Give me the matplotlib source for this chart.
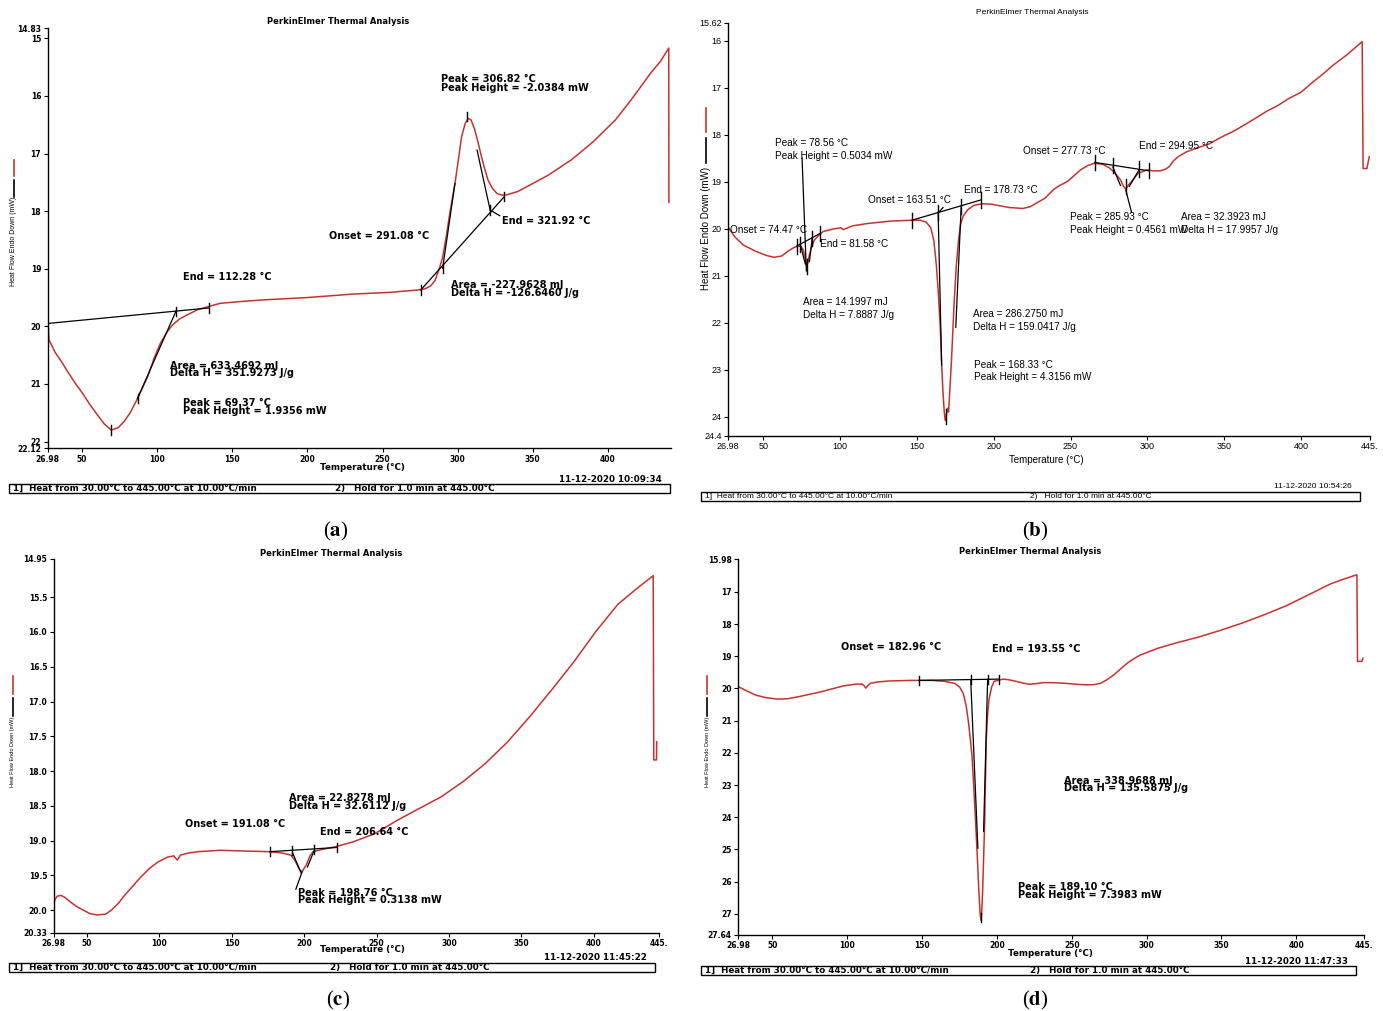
import matplotlib
matplotlib.use("Agg")
import matplotlib.pyplot as plt
from matplotlib.lines import Line2D
from matplotlib.patches import Rectangle

W, H = 1383, 1011
RED = "#c8322d"

# ---------------- data: panel (a) ----------------
a_temp = [26.98, 27.9, 32, 36, 40, 45, 50, 55, 60, 65, 69.4, 74, 78, 82, 86, 90,
          94, 98, 102, 106, 110, 115, 120, 127, 135, 142, 155, 171, 200, 230, 255,
          273, 278, 282, 285, 288, 290, 292.4, 295, 298.2, 300.5, 302.6, 305, 307,
          309, 311.4, 313.5, 315.8, 318, 320.2, 323, 326, 329, 332, 340, 346.5, 360,
          375.7, 390, 404.9, 416, 428.3, 435, 440.5, 440.6]
a_flow = [19.98, 20.23, 20.45, 20.6, 20.77, 20.97, 21.15, 21.35, 21.53, 21.7, 21.8,
          21.76, 21.65, 21.5, 21.3, 21.08, 20.85, 20.55, 20.3, 20.12, 19.98, 19.87,
          19.8, 19.71, 19.65, 19.6, 19.57, 19.54, 19.5, 19.44, 19.41, 19.37, 19.35,
          19.3, 19.2, 18.98, 18.8, 18.44, 18.0, 17.52, 17.1, 16.71, 16.48, 16.39,
          16.42, 16.59, 16.8, 17.05, 17.27, 17.46, 17.6, 17.69, 17.72, 17.72, 17.66,
          17.57, 17.38, 17.11, 16.8, 16.42, 16.05, 15.61, 15.4, 15.17, 17.85]
a_yticks = [14.83, 15, 16, 17, 18, 19, 20, 21, 22, 22.12]
a_lines = [((26.98, 19.95), (134.5, 19.68)), ((86.9, 21.25), (112.6, 19.73)),
           ((275.4, 19.37), (331.0, 17.75)), ((290.0, 18.99), (298.2, 17.52)),
           ((312.9, 16.94), (321.6, 17.98)), ((321.6, 17.98), (328.0, 18.08))]
a_marks = [(112.6, 19.74), (134.5, 19.68), (86.9, 21.25), (69.4, 21.8), (27.2, 20.1),
           (275.4, 19.37), (290.0, 19.0), (321.6, 17.98), (331.0, 17.75), (306.4, 16.36)]
a_notes = [(288.9, 15.71, "Peak = 306.82 °C"), (288.9, 15.86, "Peak Height = -2.0384 mW"),
           (214.3, 18.43, "Onset = 291.08 °C"), (329.8, 18.17, "End = 321.92 °C"),
           (295.3, 19.28, "Area = -227.9628 mJ"), (295.3, 19.42, "Delta H = -126.6460 J/g"),
           (117.3, 19.15, "End = 112.28 °C"),
           (108.5, 20.68, "Area = 633.4692 mJ"), (108.5, 20.81, "Delta H = 351.9273 J/g"),
           (117.3, 21.33, "Peak = 69.37 °C"), (117.3, 21.47, "Peak Height = 1.9356 mW")]

# ---------------- data: panel (b) ----------------
b_temp = [26.98, 31.3, 37, 45.7, 52, 57, 62, 66, 70, 72.5, 74.5, 76, 77, 78.2, 79, 80,
          81.5, 83.3, 86, 89, 95, 100.6, 102, 108, 117.9, 132.3, 146.8, 152, 156, 159,
          161, 162.7, 164, 165.2, 166.1, 167, 167.8, 168.4, 169.2, 169.9, 170.6, 171.3,
          172.5, 174.2, 175.6, 177.1, 178.5, 180, 183, 187.2, 193, 198.8, 205, 210.3,
          219, 224, 227.6, 233.4, 239.2, 243, 247.8, 252, 256.5, 261, 265.2, 271, 275,
          278.2, 282.5, 284.5, 286, 287.5, 289.7, 294, 299.8, 304, 308.5, 312, 314.3,
          317, 320, 325.8, 334.5, 340, 348.9, 356, 363.4, 370, 377.8, 385, 392.2, 400,
          406.7, 414, 421.1, 430, 439.9, 440.5, 443, 444.5]
b_flow = [19.96, 20.17, 20.35, 20.49, 20.57, 20.61, 20.58, 20.48, 20.4, 20.37, 20.38,
          20.45, 20.6, 20.8, 20.72, 20.55, 20.38, 20.24, 20.14, 20.06, 20.01, 19.98,
          20.02, 19.94, 19.89, 19.84, 19.82, 19.82, 19.86, 19.98, 20.25, 20.8, 21.4,
          22.1, 22.9, 23.5, 23.9, 24.08, 23.95, 23.82, 23.9, 23.5, 22.8, 21.6, 20.8,
          20.24, 19.9, 19.74, 19.6, 19.5, 19.47, 19.48, 19.52, 19.55, 19.57, 19.53,
          19.46, 19.35, 19.16, 19.08, 19.0, 18.88, 18.75, 18.66, 18.61, 18.63, 18.7,
          18.79, 18.96, 19.1, 19.16, 19.08, 19.0, 18.82, 18.75, 18.77, 18.77, 18.73,
          18.68, 18.56, 18.47, 18.36, 18.26, 18.2, 18.04, 17.93, 17.79, 17.66, 17.5,
          17.38, 17.23, 17.1, 16.91, 16.72, 16.52, 16.3, 16.02, 18.72, 18.72, 18.47]
b_yticks = [15.62, 16, 17, 18, 19, 20, 21, 22, 23, 24, 24.4]
b_lines = [((71.7, 20.37), (87.0, 20.1)), ((74.0, 20.33), (77.3, 20.75)),
           ((81.8, 20.2), (80.0, 20.7)), ((75.2, 18.5), (78.0, 20.9)),
           ((146.8, 19.82), (191.5, 19.39)), ((163.8, 19.65), (166.1, 22.9)),
           ((178.8, 19.53), (175.3, 22.1)), ((163.8, 19.67), (167.0, 19.55)),
           ((265.8, 18.59), (301.3, 18.77)), ((277.6, 18.69), (282.5, 19.08)),
           ((294.6, 18.75), (288.3, 19.1)), ((286.0, 19.18), (289.7, 19.65))]
b_marks = [(71.7, 20.37), (74.0, 20.33), (81.8, 20.2), (87.0, 20.1), (78.4, 20.8),
           (146.8, 19.82), (163.8, 19.65), (178.8, 19.53), (191.5, 19.39), (168.7, 24.0),
           (265.8, 18.59), (277.6, 18.66), (294.6, 18.73), (301.3, 18.77), (286.0, 19.1)]
b_notes = [(57.3, 18.18, "Peak = 78.56 °C"), (57.3, 18.45, "Peak Height = 0.5034 mW"),
           (28.4, 20.03, "Onset = 74.47 °C"), (87.0, 20.33, "End = 81.58 °C"),
           (75.5, 21.57, "Area = 14.1997 mJ"), (75.5, 21.84, "Delta H = 7.8887 J/g"),
           (117.9, 19.4, "Onset = 163.51 °C"), (180.9, 19.18, "End = 178.73 °C"),
           (186.6, 21.82, "Area = 286.2750 mJ"), (186.6, 22.09, "Delta H = 159.0417 J/g"),
           (187.2, 22.89, "Peak = 168.33 °C"), (187.2, 23.15, "Peak Height = 4.3156 mW"),
           (219.0, 18.34, "Onset = 277.73 °C"), (294.6, 18.24, "End = 294.95 °C"),
           (249.9, 19.75, "Peak = 285.93 °C"), (249.9, 20.03, "Peak Height = 0.4561 mW"),
           (322.0, 19.75, "Area = 32.3923 mJ"), (322.0, 20.03, "Delta H = 17.9957 J/g")]

# ---------------- data: panel (c) ----------------
c_temp = [26.98, 27.7, 29.5, 32.3, 35, 38.4, 43, 47.5, 52, 56.7, 62.8, 67, 71.9, 76,
          81.1, 87, 93.3, 99, 105.5, 110, 111.6, 112.5, 114.6, 120, 126.9, 142.1, 157.4,
          175.7, 185, 190.9, 193.5, 195.5, 197, 198.6, 200, 201.6, 204, 206.2, 212,
          221.5, 233.7, 248.9, 264.2, 279.4, 294.7, 309.9, 325.2, 340.5, 355.7, 371,
          386.2, 401.5, 416.7, 430, 441.0, 441.4, 443.3, 443.4]
c_flow = [19.97, 19.86, 19.8, 19.79, 19.82, 19.88, 19.95, 20.0, 20.05, 20.07, 20.06,
          20.0, 19.9, 19.79, 19.67, 19.53, 19.4, 19.31, 19.24, 19.22, 19.26, 19.28,
          19.21, 19.18, 19.16, 19.14, 19.15, 19.16, 19.18, 19.21, 19.28, 19.36, 19.42,
          19.45, 19.4, 19.35, 19.22, 19.16, 19.13, 19.09, 19.02, 18.9, 18.71, 18.54,
          18.37, 18.15, 17.89, 17.58, 17.22, 16.83, 16.43, 15.99, 15.6, 15.37, 15.19,
          17.84, 17.84, 17.58]
c_yticks = [14.95, 15.5, 16.0, 16.5, 17.0, 17.5, 18.0, 18.5, 19.0, 19.5, 20.0, 20.33]
c_lines = [((176.3, 19.16), (222.4, 19.1)), ((191.9, 19.17), (198.0, 19.47)),
           ((206.8, 19.15), (202.3, 19.38)), ((198.6, 19.45), (194.3, 19.7))]
c_marks = [(176.3, 19.16), (191.9, 19.15), (206.8, 19.13), (222.4, 19.1)]
c_notes = [(189.4, 18.39, "Area = 22.8278 mJ"), (189.4, 18.5, "Delta H = 32.6112 J/g"),
           (117.7, 18.76, "Onset = 191.08 °C"), (210.8, 18.87, "End = 206.64 °C"),
           (195.5, 19.75, "Peak = 198.76 °C"), (195.5, 19.86, "Peak Height = 0.3138 mW")]

# ---------------- data: panel (d) ----------------
d_temp = [26.98, 33, 38.5, 45, 53.3, 60, 68, 75, 82.8, 90, 97.6, 105, 109.5, 111, 112.4,
          113.5, 115.4, 120, 127.2, 142, 156.8, 165, 171.6, 175, 177.5, 179.5, 181.1,
          182.3, 183.4, 184.6, 185.8, 186.9, 187.9, 188.8, 189.3, 189.8, 190.5, 191.1,
          191.7, 192.3, 192.9, 193.8, 194.7, 196.5, 198.2, 204.1, 208, 213, 218, 221.9,
          226, 230.8, 238, 245.6, 253, 260.4, 265, 269.2, 273.5, 278.1, 283, 287, 291,
          295.9, 301, 307.7, 319.5, 334.3, 349.1, 363.9, 378.7, 393.5, 408.3, 423.1,
          432, 440.6, 441.0, 444.0, 444.6]
d_flow = [19.94, 20.08, 20.2, 20.28, 20.33, 20.32, 20.25, 20.18, 20.1, 20.01, 19.92,
          19.87, 19.86, 19.9, 19.99, 19.92, 19.84, 19.8, 19.77, 19.75, 19.75, 19.78,
          19.84, 19.95, 20.15, 20.55, 21.08, 21.6, 22.11, 23.1, 24.18, 25.2, 26.25,
          27.0, 27.19, 27.0, 26.25, 25.3, 24.39, 23.0, 21.6, 20.8, 20.35, 19.95, 19.78,
          19.71, 19.73, 19.78, 19.84, 19.87, 19.85, 19.82, 19.82, 19.84, 19.87, 19.89,
          19.88, 19.84, 19.73, 19.58, 19.38, 19.22, 19.09, 18.96, 18.87, 18.75, 18.59,
          18.41, 18.2, 17.97, 17.71, 17.43, 17.09, 16.75, 16.6, 16.47, 19.16, 19.16, 19.06]
d_yticks = [15.98, 17, 18, 19, 20, 21, 22, 23, 24, 25, 26, 27, 27.64]
d_lines = [((147.9, 19.75), (201.2, 19.71)), ((182.5, 19.73), (187.3, 24.96)),
           ((193.8, 19.72), (191.1, 24.44))]
d_marks = [(147.9, 19.75), (182.5, 19.73), (193.8, 19.72), (201.2, 19.71), (189.3, 27.1)]
d_notes = [(95.6, 18.7, "Onset = 182.96 °C"), (197.0, 18.78, "End = 193.55 °C"),
           (245.0, 22.86, "Area = 338.9688 mJ"), (245.0, 23.1, "Delta H = 135.5875 J/g"),
           (213.9, 26.18, "Peak = 189.10 °C"), (213.9, 26.41, "Peak Height = 7.3983 mW")]

x_ticks = [26.98, 50, 100, 150, 200, 250, 300, 350, 400, 445]
x_labels = ["26.98", "50", "100", "150", "200", "250", "300", "350", "400", "445."]
stamps = ["11-12-2020 10:09:34", "11-12-2020 10:54:26", "11-12-2020 11:45:22", "11-12-2020 11:47:33"]

plt.rcParams["mathtext.fontset"] = "stix"
fig = plt.figure(figsize=(W / 100, H / 100), dpi=100)


def fx(x):
    return x / W


def fy(y):
    return 1 - y / H


def make_axes(left, top, right, bottom):
    return fig.add_axes([fx(left), fy(bottom), (right - left) / W, (bottom - top) / H])


def draw_panel(ax, temp, flow, xmax, ylim, yticks, yfmt, lines, marks, mark_h,
               notes, txt, tick_fs):
    ax.plot(temp, flow, color=RED, lw=1.1, solid_joinstyle="round")
    for (x0, y0), (x1, y1) in lines:
        ax.plot([x0, x1], [y0, y1], color="black", lw=0.9)
    for x, y in marks:
        ax.plot([x, x], [y - mark_h, y + mark_h], color="black", lw=1.0)
    for x, y, s in notes:
        ax.text(x, y, s, ha="left", va="center", **txt)
    style = {k: v for k, v in txt.items() if k != "fontsize"}
    ax.set_xlim(26.98, xmax)
    ax.set_ylim(*ylim)
    ax.set_yticks(yticks)
    ax.set_yticklabels([yfmt(v) for v in yticks], fontsize=tick_fs, **style)
    keep = [i for i, t in enumerate(x_ticks) if t <= xmax]
    ax.set_xticks([x_ticks[i] for i in keep])
    ax.set_xticklabels([x_labels[i] for i in keep], fontsize=tick_fs, **style)
    for side in ("top", "right"):
        ax.spines[side].set_visible(False)
    for side in ("left", "bottom"):
        ax.spines[side].set_linewidth(1.0)
    ax.tick_params(direction="out", length=3, width=0.8, pad=1.5)
    ax.patch.set_alpha(0)


def frame(xl, xr, ybox, xtxt2, title_xy, stamp, xlab_xy, ylab_x, ylab_y, ylab_fs,
          red_seg, blk_seg, cap_xy, cap, style, fs_title, fs_box, fs_lab):
    fig.text(fx(title_xy[0]), fy(title_xy[1]), "PerkinElmer Thermal Analysis",
             ha="center", va="center", fontsize=fs_title, **style)
    fig.text(fx(xlab_xy[0]), fy(xlab_xy[1]), "Temperature (°C)", ha="center", va="center",
             fontsize=fs_lab, **style)
    fig.patches.append(Rectangle((fx(xl), fy(ybox + 9)), (xr - xl) / W, 9 / H,
                                 transform=fig.transFigure, fill=False, lw=1.0, ec="black"))
    fig.text(fx(xl + 4), fy(ybox + 4.5), "1]  Heat from 30.00°C to 445.00°C at 10.00°C/min",
             ha="left", va="center", fontsize=fs_box, **style)
    fig.text(fx(xtxt2), fy(ybox + 4.5), "2)   Hold for 1.0 min at 445.00°C",
             ha="left", va="center", fontsize=fs_box, **style)
    fig.text(fx(xr - 8), fy(ybox - 5), stamp, ha="right", va="center", fontsize=fs_box, **style)
    fig.text(fx(ylab_x), fy(ylab_y), "Heat Flow Endo Down (mW)", rotation=90,
             ha="center", va="center", fontsize=ylab_fs, family="Liberation Sans")
    fig.lines.append(Line2D([fx(ylab_x)] * 2, [fy(red_seg[0]), fy(red_seg[1])],
                            transform=fig.transFigure, color=RED, lw=1.2))
    fig.lines.append(Line2D([fx(ylab_x)] * 2, [fy(blk_seg[0]), fy(blk_seg[1])],
                            transform=fig.transFigure, color="black", lw=1.2))
    fig.text(fx(cap_xy[0]), fy(cap_xy[1]), "(" + r"$\mathbf{" + cap + "}$" + ")",
             ha="center", va="center", fontsize=15, family="Liberation Serif")


bold = dict(fontsize=7, family="DejaVu Sans", fontweight="bold")
plain = dict(fontsize=7.2, family="Liberation Sans")
bold_style = dict(family="DejaVu Sans", fontweight="bold")
plain_style = dict(family="Liberation Sans")


def fmt_int(v):
    return f"{v:g}"


def fmt_one(v):
    return f"{v:.2f}" if round(v, 1) != v else f"{v:.1f}"


# (a)
ax_a = make_axes(47.5, 28.5, 671, 448.5)
draw_panel(ax_a, a_temp, a_flow, 442, (22.12, 14.83), a_yticks, fmt_int,
           a_lines, a_marks, 0.08, a_notes, bold, 5.5)
frame(9, 670, 484, 335, (338, 21), stamps[0], (362, 467), 14, 241, 5.0, (160, 176), (180, 197),
      (336, 531), "a", bold_style, 6.0, 6.3, 6.3)

# (b)
ax_b = make_axes(728, 22.8, 1370, 435.5)
draw_panel(ax_b, b_temp, b_flow, 445, (24.4, 15.62), b_yticks, fmt_int,
           b_lines, b_marks, 0.16, b_notes, plain, 6.5)
frame(701, 1360, 492, 1030, (1032, 12), stamps[1], (1046, 460), 706, 228, 7.0, (108, 132), (138, 163),
      (1035, 531), "b", plain_style, 6.0, 6.0, 7.0)

# (c)
ax_c = make_axes(53.5, 559, 659, 933)
draw_panel(ax_c, c_temp, c_flow, 445, (20.33, 14.95), c_yticks, fmt_one,
           c_lines, c_marks, 0.065, c_notes, bold, 5.5)
frame(9, 655, 963, 330, (331, 553), stamps[2], (362, 950), 13, 752, 4.0, (676, 694), (698, 716),
      (338, 1000), "c", bold_style, 6.0, 6.3, 6.3)

# (d)
ax_d = make_axes(738, 559, 1363.5, 934.5)
draw_panel(ax_d, d_temp, d_flow, 445, (27.64, 15.98), d_yticks, fmt_int,
           d_lines, d_marks, 0.14, d_notes, bold, 5.5)
frame(701, 1356, 966, 1030, (1030, 551), stamps[3], (1050, 953), 707, 752, 4.0, (676, 694), (698, 716),
      (1035, 1000), "d", bold_style, 6.0, 6.3, 6.3)

fig.savefig("out.png", dpi=100)
